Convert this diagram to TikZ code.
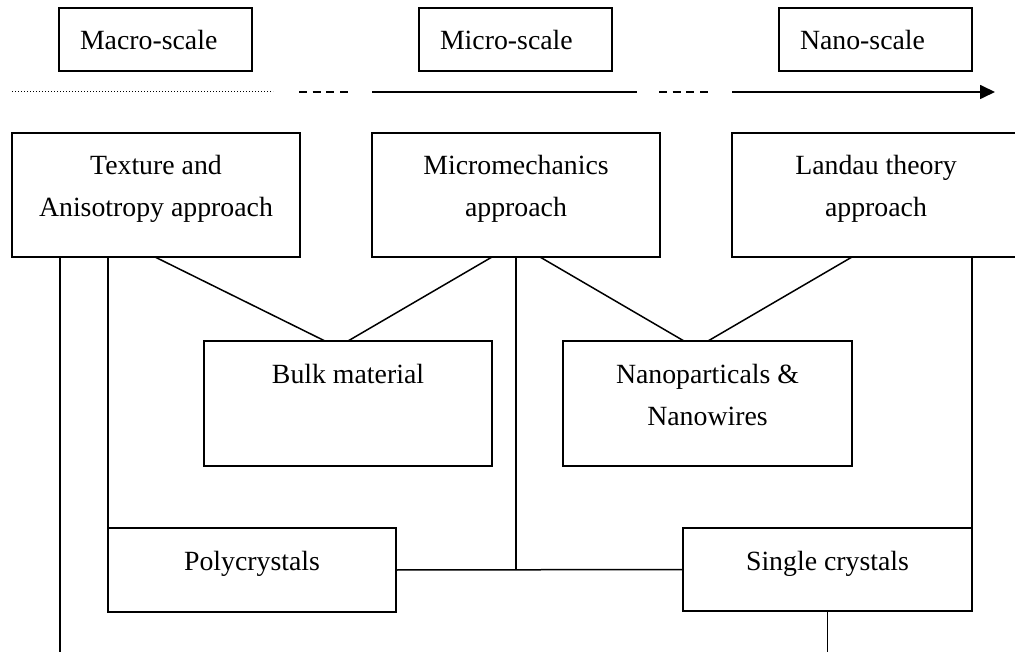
\documentclass[tikz,border=0pt]{standalone}
\usepackage{fontspec}
\setmainfont{Liberation Serif}
\usetikzlibrary{arrows.meta,calc}
\tikzset{
  box/.style={draw, rectangle, line width=1.6pt, inner sep=0pt, outer sep=0pt},
  topbox/.style={box, minimum width=193pt, minimum height=63pt},
  bigbox/.style={box, minimum width=288pt, minimum height=124pt},
  txt/.style={inner sep=0pt, outer sep=0pt, font=\fontsize{27.8}{42}\selectfont, align=center},
  conn/.style={line width=1.5pt},
  axis/.style={line width=1.7pt},
}
\begin{document}
\begin{tikzpicture}[x=1pt,y=-1pt]
\useasboundingbox (0,0) rectangle (1015,652);
% scale boxes
\node[topbox] (macro) at (155.5,39.5) {};
\node[topbox] (micro) at (515.5,39.5) {};
\node[topbox] (nano)  at (875.5,39.5) {};
\node[txt, anchor=base west] (macrot) at ($(macro.north west)+(21,42)$) {Macro-scale};
\node[txt, anchor=base west] (microt) at ($(micro.north west)+(21,42)$) {Micro-scale};
\node[txt, anchor=base west] (nanot)  at ($(nano.north west)+(21,42)$) {Nano-scale};
% axis
\coordinate (a1) at (12,92);  \coordinate (a2) at (273,92);
\coordinate (a3) at (299,92); \coordinate (a4) at (348,92);
\coordinate (a5) at (372,92); \coordinate (a6) at (637,92);
\coordinate (a7) at (659,92); \coordinate (a8) at (709,92);
\coordinate (a9) at (732,92); \coordinate (a10) at (995,92);
\draw[line width=1pt, dash pattern=on 1pt off 2pt] (a1) -- (a2);
\draw[axis, dash pattern=on 8pt off 5.7pt] (a3) -- (a4);
\draw[axis] (a5) -- (a6);
\draw[axis, dash pattern=on 8pt off 5.7pt] (a7) -- (a8);
\draw[axis, -{Triangle[length=15pt,width=14pt]}] (a9) -- (a10);
% approach boxes
\node[bigbox] (tex) at (156,195) {};
\node[bigbox] (mic) at (516,195) {};
\node[bigbox] (lan) at (876,195) {};
\node[txt, anchor=north] (text) at ($(tex.north)+(0,12.6)$) {\strut Texture and\\\strut Anisotropy approach};
\node[txt, anchor=north] (mict) at ($(mic.north)+(0,12.6)$) {\strut Micromechanics\\\strut approach};
\node[txt, anchor=north] (lant) at ($(lan.north)+(0,12.6)$) {\strut Landau theory\\\strut approach};
% material boxes
\node[box, minimum width=288pt, minimum height=125pt] (bulk) at (348,403.5) {};
\node[box, minimum width=289pt, minimum height=125pt] (nanop) at (707.5,403.5) {};
\node[txt, anchor=north] (bulkt) at ($(bulk.north)+(0,12.6)$) {\strut Bulk material};
\node[txt, anchor=north] (nanopt) at ($(nanop.north)+(0,12.6)$) {\strut Nanoparticals \&\\\strut Nanowires};
% crystal boxes
\node[box, minimum width=288pt, minimum height=84pt] (poly) at (252,570) {};
\node[box, minimum width=289pt, minimum height=83pt] (single) at (827.5,569.5) {};
\node[txt, anchor=north] (polyt) at ($(poly.north)+(0,12.6)$) {\strut Polycrystals};
\node[txt, anchor=north] (singlet) at ($(single.north)+(0,12.6)$) {\strut Single crystals};
% connectors
\coordinate (b1) at (60,652);
\coordinate (b2) at (827.5,652);
\draw[conn] (tex.south -| b1) -- (b1);
\draw[conn] (poly.north west |- tex.south) -- (poly.north west);
\draw[conn] ($(tex.south west)+(143,0)$) -- ($(bulk.north west)+(121,0)$);
\draw[conn] ($(mic.south west)+(120,0)$) -- ($(bulk.north west)+(144,0)$);
\draw[conn] ($(mic.south west)+(168,0)$) -- ($(nanop.north west)+(121,0)$);
\draw[conn] ($(lan.south west)+(120,0)$) -- ($(nanop.north west)+(145,0)$);
\draw[conn] (mic.south) -- (mic.south |- poly.east);
\draw[conn] (poly.east) -- (single.west);
\draw[conn] (single.north east |- lan.south) -- (single.north east);
\draw[conn] (single.south) -- (b2);
\end{tikzpicture}
\end{document}
